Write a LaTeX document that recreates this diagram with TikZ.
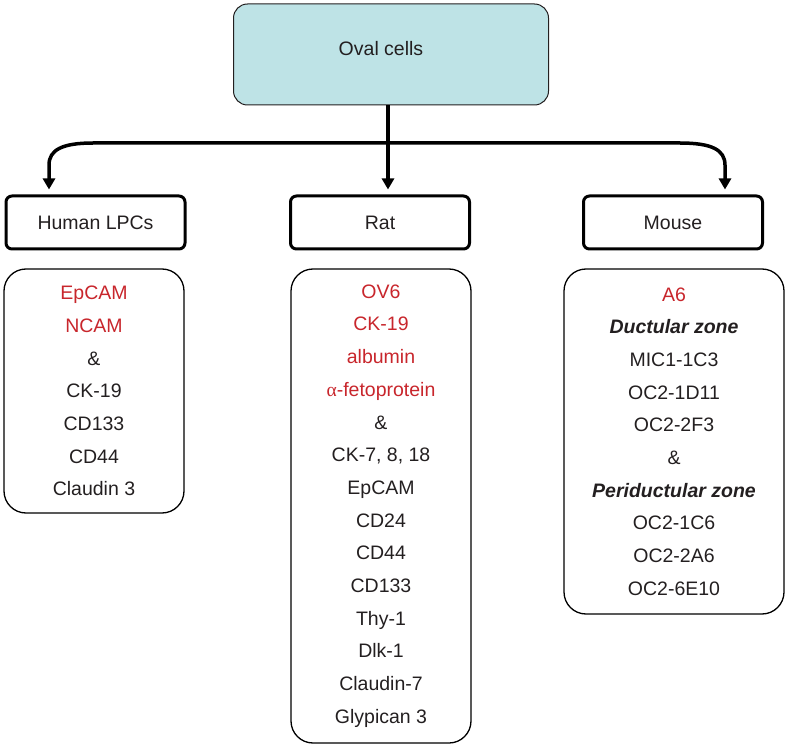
\documentclass[tikz,border=0pt]{standalone}
\usepackage{fontspec}
\setmainfont{Liberation Sans}
\newfontfamily\greekserif{Liberation Serif}
\usetikzlibrary{arrows.meta}
\definecolor{mred}{RGB}{200,38,44}
\definecolor{mtext}{RGB}{35,31,32}
\definecolor{mcyan}{RGB}{190,227,230}
\begin{document}
\begin{tikzpicture}[x=1pt,y=-1pt,
  txt/.style={font=\fontsize{19.5pt}{32.7pt}\selectfont, text=mtext, align=center},
  topbox/.style={txt, draw=mtext, line width=1pt, fill=mcyan, rounded corners=14pt, minimum width=315pt, minimum height=101pt},
  headbox/.style={txt, draw=black, line width=3pt, rounded corners=6pt, minimum width=179pt, minimum height=53pt},
  listbox/.style={txt, draw=black, line width=1.3pt, rounded corners=22pt},
  conn/.style={line width=3.5pt, draw=black, -{Triangle[length=11pt,width=12pt]}},
  red/.style={text=mred}
]
\useasboundingbox (0,0) rectangle (788,749);
% top box
\node[topbox] (oval) at (391,54.5) {};
\node[txt] (ovaltxt) at (381,49) {Oval cells};
% header boxes
\node[headbox] (human) at (95.5,222.5) {Human LPCs};
\node[headbox] (rat) at (380,222.5) {Rat};
\node[headbox] (mouse) at (673,222.5) {Mouse};
% list boxes
\node[listbox, minimum width=180pt, minimum height=244pt] (hlist) at (94,391)
  {\textcolor{mred}{EpCAM}\\\textcolor{mred}{NCAM}\\\&\\CK-19\\CD133\\CD44\\Claudin 3};
\node[listbox, minimum width=180pt, minimum height=474pt] (rlist) at (381,506)
  {\textcolor{mred}{OV6}\\\textcolor{mred}{CK-19}\\\textcolor{mred}{albumin}\\\textcolor{mred}{{\greekserif α}-fetoprotein}\\\&\\CK-7, 8, 18\\EpCAM\\CD24\\CD44\\CD133\\Thy-1\\Dlk-1\\Claudin-7\\Glypican 3};
\node[listbox, minimum width=220pt, minimum height=345pt] (mlist) at (674,441.5)
  {\textcolor{mred}{A6}\\\textbf{\itshape Ductular zone}\\MIC1-1C3\\OC2-1D11\\OC2-2F3\\\&\\\textbf{\itshape Periductular zone}\\OC2-1C6\\OC2-2A6\\OC2-6E10};
% connectors
\coordinate (j) at (388,143);
\coordinate (lx) at (49,143);
\coordinate (rx) at (725,143);
\draw[line width=3.5pt] (oval.south -| j) -- (j);
\draw[conn] (oval.south -| j) -- ([yshift=5pt]rat.north -| j);
\draw[conn] (j) -- (93,143) .. controls (62,143) and (49,150) .. (49,165) -- ([yshift=5pt]human.north -| lx);
\draw[conn] (j) -- (680,143) .. controls (712,143) and (725,150) .. (725,165) -- ([yshift=5pt]mouse.north -| rx);
\end{tikzpicture}
\end{document}
